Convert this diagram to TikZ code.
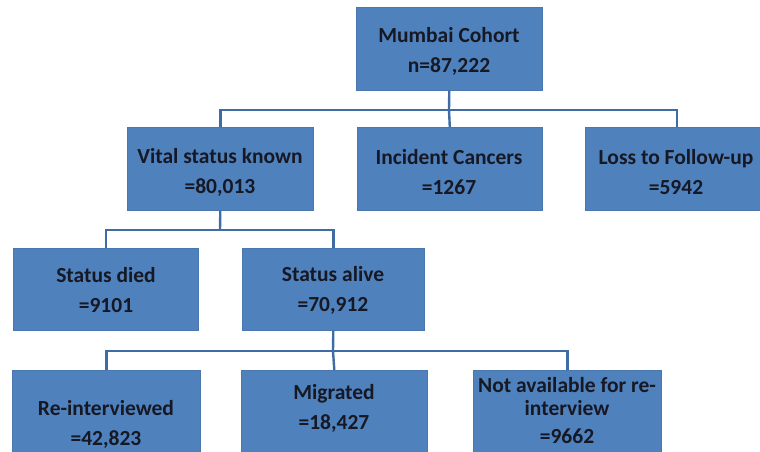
\documentclass[tikz,border=0pt]{standalone}
\usepackage{fontspec}
\setmainfont{Carlito}
\definecolor{boxblue}{RGB}{79,129,189}
\definecolor{lineblue}{RGB}{63,108,165}
\definecolor{txt}{RGB}{22,24,36}
\begin{document}
\begin{tikzpicture}[x=1pt,y=-1pt,
  box/.style={fill=boxblue,draw=boxblue!92!black,line width=0.6pt,inner sep=0pt,anchor=north west},
  lbl/.style={text=txt,font=\bfseries\fontsize{21.5}{30}\selectfont,align=center,inner sep=0pt},
  conn/.style={draw=lineblue,line width=2.4pt}]
\useasboundingbox (0,0) rectangle (760,451);
% boxes
\node[box,minimum width=186pt,minimum height=83pt] (top) at (356,7) {};
\node[box,minimum width=186pt,minimum height=83pt] (vit) at (127,127) {};
\node[box,minimum width=185pt,minimum height=83pt] (inc) at (357,127) {};
\node[box,minimum width=180pt,minimum height=83pt] (loss) at (585,127) {};
\node[box,minimum width=185pt,minimum height=82pt] (died) at (13,248) {};
\node[box,minimum width=182pt,minimum height=82pt] (alive) at (242,248) {};
\node[box,minimum width=188pt,minimum height=90pt] (reint) at (12,370) {};
\node[box,minimum width=186pt,minimum height=90pt] (migr) at (241,370) {};
\node[box,minimum width=188pt,minimum height=90pt] (navail) at (473,370) {};
% labels
\node[lbl] (ttop) at (449,51) {Mumbai Cohort\\n=87,222};
\node[lbl] (tvit) at (220,172) {Vital status known\\=80,013};
\node[lbl] (tinc) at (449,172) {Incident Cancers\\=1267};
\node[lbl] (tloss) at (676,172) {Loss to Follow-up\\=5942};
\node[lbl] (tdied) at (106,290) {Status died\\=9101};
\node[lbl] (talive) at (333,290) {Status alive\\=70,912};
\node[lbl] (treint) at (106,424) {Re-interviewed\\=42,823};
\node[lbl] (tmigr) at (334,408) {Migrated\\=18,427};
\node[lbl,font=\bfseries\fontsize{21.5}{23}\selectfont] (tnav) at (567,411) {Not available for re-\\interview\\[5pt]=9662};
% connector coordinates
\coordinate (hub1) at (449,110);
\coordinate (lossin) at (677,127);
\coordinate (hub2) at (220,230);
\coordinate (hub3) at (333,351);
% connectors
\draw[conn] (top.south) -- (hub1);
\draw[conn] (vit.north) |- (hub1) -| (lossin);
\draw[conn] (hub1) -- (inc.north);
\draw[conn] (vit.south) -- (hub2);
\draw[conn] (died.north) |- (hub2) -| (alive.north);
\draw[conn] (alive.south) -- (hub3);
\draw[conn] (reint.north) |- (hub3) -| (navail.north);
\draw[conn] (hub3) -- (migr.north);
\end{tikzpicture}
\end{document}
